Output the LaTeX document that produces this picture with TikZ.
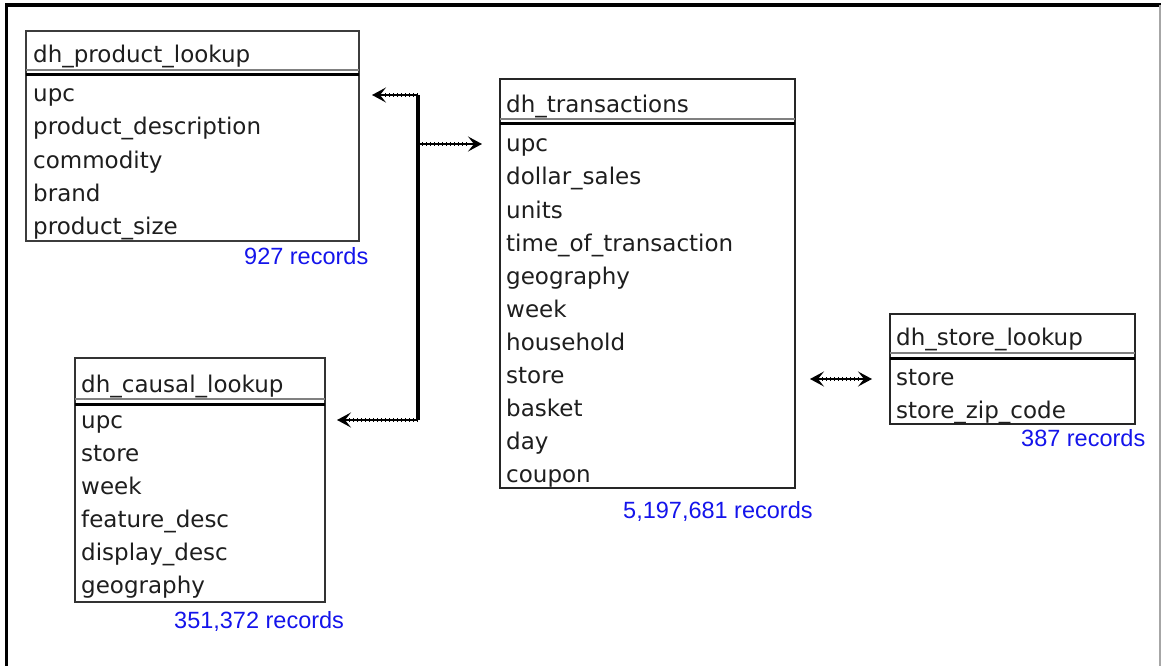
\documentclass[tikz,border=0pt]{standalone}
\usepackage{fontspec}
\usetikzlibrary{arrows.meta,calc}
\newfontfamily\tblfont{DejaVu Sans}
\newfontfamily\recfont{Liberation Sans}
\definecolor{recblue}{RGB}{20,20,235}
\definecolor{boxgray}{RGB}{60,60,60}
\definecolor{txtgray}{RGB}{30,30,30}

\tikzset{
  tblbox/.style={draw=boxgray, line width=2.6pt, fill=white, inner sep=0pt, outer sep=0pt, anchor=north west},
  field/.style={anchor=base west, inner sep=0pt, text=txtgray, font=\tblfont\fontsize{23}{26}\selectfont},
  records/.style={anchor=base west, inner sep=0pt, text=recblue, font=\recfont\fontsize{23.5}{27}\selectfont},
  sepgray/.style={draw=gray, line width=2.6pt},
  sepblack/.style={draw=black, line width=3pt},
  trunk/.style={draw=black, line width=3.4pt},
  tip/.style={Stealth[length=14pt,width=15pt,inset=6pt]},
  link/.style={draw=black, line width=1.8pt,
    -{Stealth[length=14pt,width=15pt,inset=6pt]},
    postaction={draw, -, line width=4pt, dash pattern=on 1pt off 3pt, shorten >=12pt}},
  biglink/.style={draw=black, line width=1.8pt,
    {Stealth[length=14pt,width=15pt,inset=6pt]}-{Stealth[length=14pt,width=15pt,inset=6pt]},
    postaction={draw, -, line width=4pt, dash pattern=on 1pt off 3pt, shorten >=12pt, shorten <=12pt}}
}

\begin{document}
\begin{tikzpicture}[x=1pt, y=-1pt]
\useasboundingbox (0,0) rectangle (1162,666);
\fill[white] (0,0) rectangle (1162,666);

% page frame
\draw[line width=3.5pt] (5,5) -- (1161,5);
\draw[line width=3pt] (6,4) -- (6,666);
\draw[line width=2pt, gray!70] (1160,5) -- (1160,666);

% ---- dh_product_lookup
\node[tblbox, minimum width=333pt, minimum height=210pt] (prod) at (26,31) {};
\draw[sepgray] (prod.west |- 0,70) -- (prod.east |- 0,70);
\draw[sepblack] (prod.west |- 0,75) -- (prod.east |- 0,75);
\node[field] (prodT) at (33,63) {dh\_product\_lookup};
\node[field] (p1) at (33,102) {upc};
\node[field] (p2) at (33,135) {product\_description};
\node[field] (p3) at (33,168) {commodity};
\node[field] (p4) at (33,201) {brand};
\node[field] (p5) at (33,234) {product\_size};
\node[records] (prodR) at (244,264) {927 records};

% ---- dh_transactions
\node[tblbox, draw=black!85, minimum width=295pt, minimum height=409pt] (trans) at (500,79) {};
\draw[sepgray] (trans.west |- 0,119) -- (trans.east |- 0,119);
\draw[sepblack] (trans.west |- 0,124) -- (trans.east |- 0,124);
\node[field] (transT) at (506,113) {dh\_transactions};
\node[field] (t1) at (506,152) {upc};
\node[field] (t2) at (506,185) {dollar\_sales};
\node[field] (t3) at (506,218) {units};
\node[field] (t4) at (506,251) {time\_of\_transaction};
\node[field] (t5) at (506,284) {geography};
\node[field] (t6) at (506,317) {week};
\node[field] (t7) at (506,350) {household};
\node[field] (t8) at (506,383) {store};
\node[field] (t9) at (506,416) {basket};
\node[field] (t10) at (506,449) {day};
\node[field] (t11) at (506,482) {coupon};
\node[records] (transR) at (623,518) {5,197,681 records};

% ---- dh_causal_lookup
\node[tblbox, draw=black!80, minimum width=250pt, minimum height=244pt] (caus) at (75,358) {};
\draw[sepgray] (caus.west |- 0,399) -- (caus.east |- 0,399);
\draw[sepblack] (caus.west |- 0,404) -- (caus.east |- 0,404);
\node[field] (causT) at (81,392) {dh\_causal\_lookup};
\node[field] (c1) at (81,428) {upc};
\node[field] (c2) at (81,461) {store};
\node[field] (c3) at (81,494) {week};
\node[field] (c4) at (81,527) {feature\_desc};
\node[field] (c5) at (81,560) {display\_desc};
\node[field] (c6) at (81,593) {geography};
\node[records] (causR) at (174,628) {351,372 records};

% ---- dh_store_lookup
\node[tblbox, draw=black!85, minimum width=245pt, minimum height=110pt] (store) at (890,314) {};
\draw[sepgray] (store.west |- 0,353) -- (store.east |- 0,353);
\draw[sepblack] (store.west |- 0,358) -- (store.east |- 0,358);
\node[field] (storeT) at (896,345) {dh\_store\_lookup};
\node[field] (s1) at (896,385) {store};
\node[field] (s2) at (896,418) {store\_zip\_code};
\node[records] (storeR) at (1021,446) {387 records};

% ---- joins
\coordinate (jTop) at (418,95);
\coordinate (jMid) at (418,144);
\coordinate (jBot) at (418,420);
\coordinate (jStore) at (0,379);
\draw[trunk] (jTop) -- (jBot);
\draw[link] (jTop) -- ([xshift=13pt]prod.east |- jTop);
\draw[link] (jMid) -- ([xshift=-18pt]trans.west |- jMid);
\draw[link] (jBot) -- ([xshift=12pt]caus.east |- jBot);
\draw[biglink] ([xshift=15pt]trans.east |- jStore) -- ([xshift=-18pt]store.west |- jStore);
\end{tikzpicture}
\end{document}
